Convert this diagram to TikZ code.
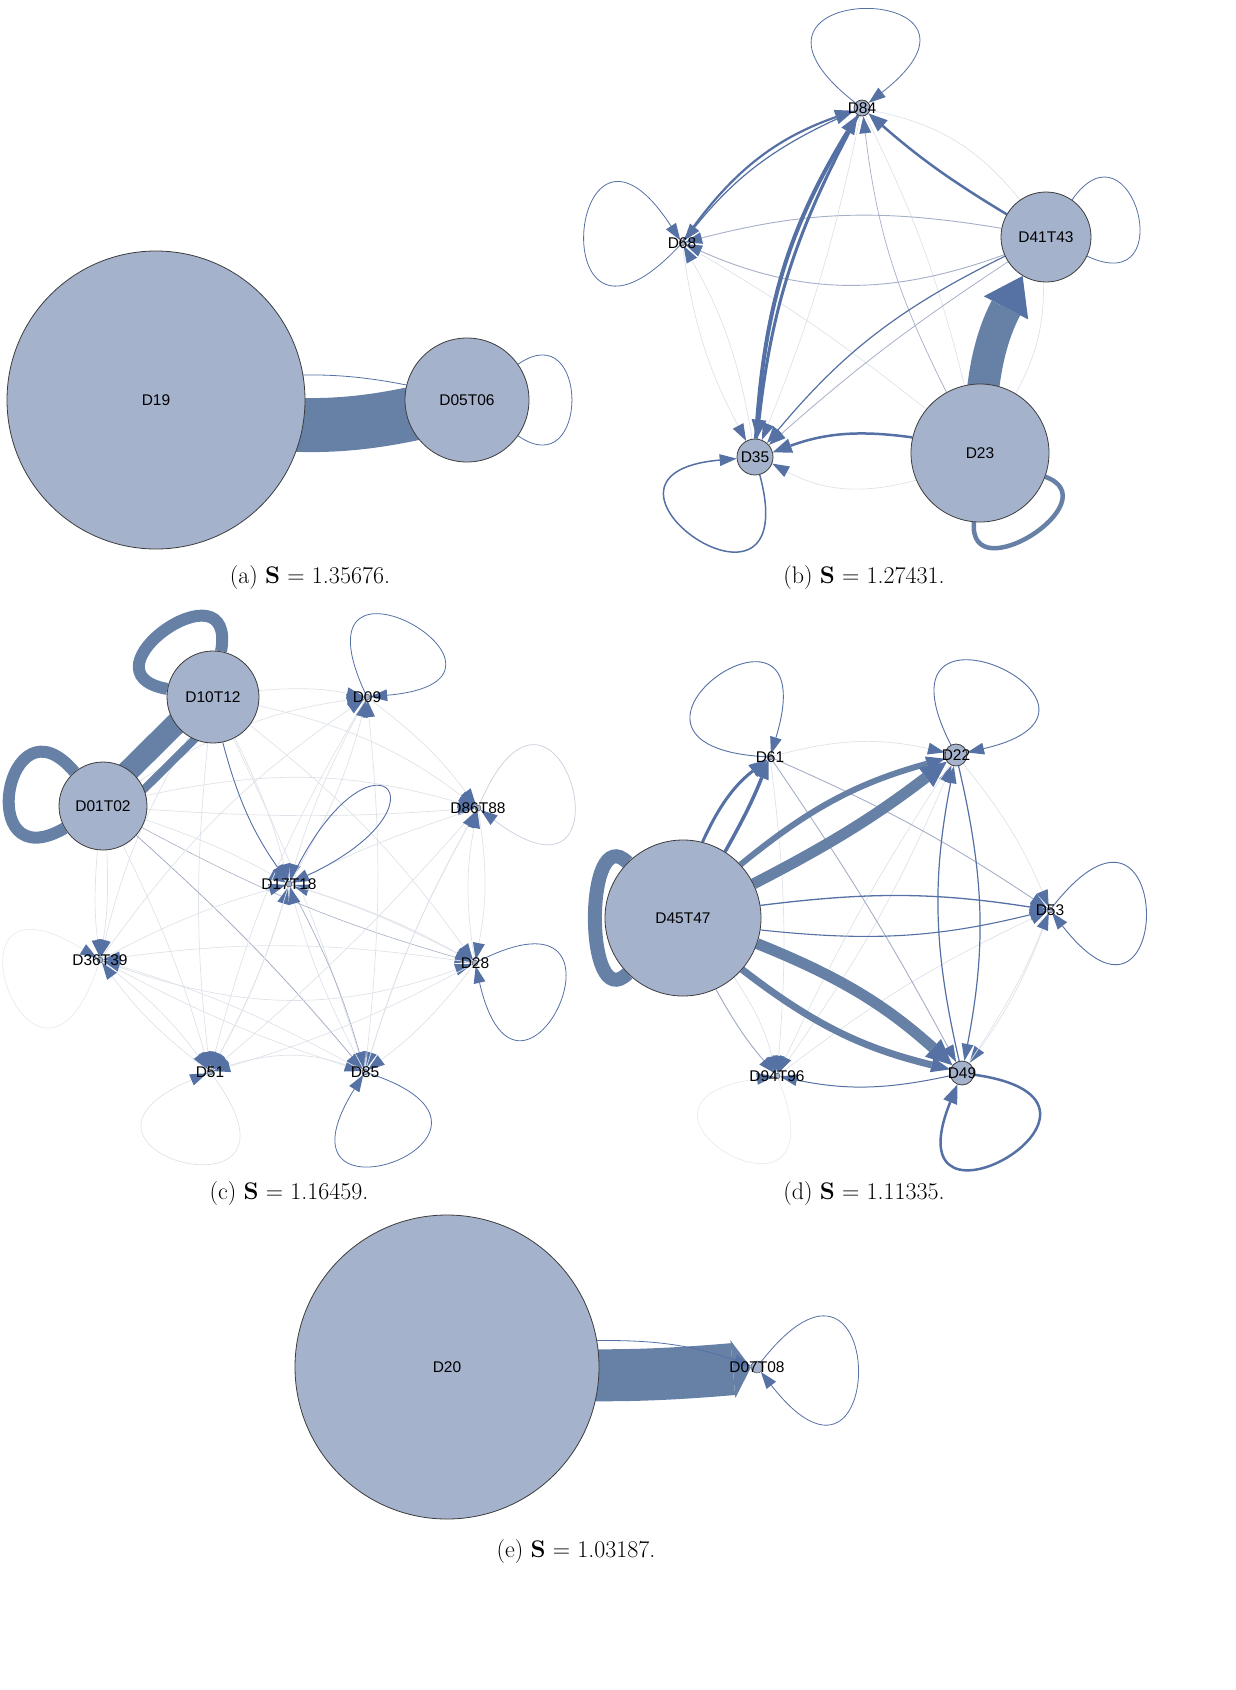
\documentclass[tikz,border=0pt]{standalone}
\usepackage{fontspec}
\newfontfamily\labfamily{Liberation Sans}
\newcommand\labf{\labfamily\fontsize{15.5}{18}\selectfont}
\newcommand\capf{\fontsize{24}{28}\selectfont}
\usetikzlibrary{arrows.meta}
\pgfdeclarelayer{bg}
\pgfsetlayers{bg,main}
\definecolor{nfill}{RGB}{164,178,204}
\definecolor{nbord}{RGB}{60,60,60}
\definecolor{eblue}{RGB}{102,128,166}
\definecolor{ablue}{RGB}{86,114,164}
\definecolor{lblue}{RGB}{84,112,164}
\definecolor{gline}{RGB}{165,174,198}
\definecolor{fline}{RGB}{222,226,233}
\definecolor{vfline}{RGB}{232,234,238}
\newcommand\myloop[5]{\draw[#1] (#2) .. controls +(#3:#5) and +(#4:#5) .. (#2);}
\tikzset{
  bnode/.style={circle,draw=nbord,fill=nfill,line width=0.8pt,inner sep=0pt,minimum size=#1,font=\labf},
  snode/.style={circle,draw=nbord,fill=nfill,line width=0.4pt,inner sep=0pt,minimum size=#1},
  labtxt/.style={font=\labf,inner sep=0pt,text=black},
  captxt/.style={font=\capf,inner sep=0pt},
  fe/.style={draw=fline,line width=0.7pt},
  vfe/.style={draw=vfline,line width=0.7pt},
  ge/.style={draw=gline,line width=#1}, ge/.default=0.8pt,
  be/.style={draw=lblue,line width=#1}, be/.default=0.9pt,
  band/.style={draw=eblue,line width=#1},
  atip/.style={-{Triangle[length=17pt,width=12pt,line width=0pt,color=ablue]}},
  atipm/.style={-{Triangle[length=19pt,width=15pt,line width=0pt,color=ablue]}},
  atipl/.style={-{Triangle[length=26pt,width=24pt,line width=0pt,color=ablue]}},
  atiph/.style={-{Triangle[length=36pt,width=50pt,line width=0pt,color=ablue]}},
  atipe/.style={-{Triangle[length=18pt,width=58pt,line width=0pt,color=eblue]}},
}
\begin{document}
\begin{tikzpicture}[x=1pt,y=1pt]
\useasboundingbox (0,0) rectangle (1236,-1690);

% ---------------- nodes ----------------
% (a)
\node[bnode=298pt] (d19) at (156,-400) {D19};
\node[bnode=124pt] (d05) at (467,-400) {D05T06};
% (b)
\node[bnode=16pt,label={[labtxt]center:D84}] (d84) at (862,-108) {};
\node[snode=6pt,label={[labtxt]center:D68}] (d68) at (682,-243) {};
\node[bnode=90pt] (d41) at (1046,-237) {D41T43};
\node[bnode=36pt] (d35) at (755,-457) {D35};
\node[bnode=138pt] (d23) at (980,-453) {D23};
% (c)
\node[bnode=92pt] (d10) at (213,-697) {D10T12};
\node[bnode=88pt] (d01) at (103,-806) {D01T02};
\node[snode=6pt,label={[labtxt]center:D09}] (d09) at (367,-697) {};
\node[snode=6pt,label={[labtxt]center:D86T88}] (d86) at (478,-808) {};
\node[snode=6pt,label={[labtxt]center:D17T18}] (d17) at (289,-884) {};
\node[snode=6pt,label={[labtxt]center:D36T39}] (d36) at (100,-960) {};
\node[snode=6pt,label={[labtxt]center:D28}] (d28) at (475,-963) {};
\node[snode=6pt,label={[labtxt]center:D51}] (d51) at (210,-1072) {};
\node[snode=6pt,label={[labtxt]center:D85}] (d85) at (365,-1072) {};
% (d)
\node[snode=6pt,label={[labtxt]center:D61}] (d61) at (770,-757) {};
\node[bnode=22pt,label={[labtxt]center:D22}] (d22) at (956,-755) {};
\node[bnode=156pt] (d45) at (683,-918) {D45T47};
\node[snode=6pt,label={[labtxt]center:D53}] (d53) at (1050,-910) {};
\node[snode=6pt,label={[labtxt]center:D94T96}] (d94) at (777,-1076) {};
\node[bnode=24pt,label={[labtxt]center:D49}] (d49) at (962,-1073) {};
% (e)
\node[bnode=304pt] (d20) at (447,-1367) {D20};
\node[snode=12pt,label={[labtxt]center:D07T08}] (d07) at (757,-1367) {};

% captions
\node[captxt] (capa) at (310,-578) {(a) \textbf{S} = 1.35676.};
\node[captxt] (capb) at (864,-578) {(b) \textbf{S} = 1.27431.};
\node[captxt] (capc) at (289,-1193) {(c) \textbf{S} = 1.16459.};
\node[captxt] (capd) at (864,-1193) {(d) \textbf{S} = 1.11335.};
\node[captxt] (cape) at (576,-1551) {(e) \textbf{S} = 1.03187.};

\begin{pgfonlayer}{bg}
% ---------------- (a) ----------------
\draw[band=54pt] (d19.center) to[bend right=16] (d05.center);
\draw[be=0.8pt] (d19.center) to[bend left=16] (d05.center);
\myloop{be=0.8pt}{d05}{35}{-35}{150}

% ---------------- (b) ----------------
\draw[fe,atip] (d84) to[bend left=5] (d35);
\draw[fe] (d84) to[bend left=6] (d23);
\draw[ge=0.7pt,atip] (d23) to[bend left=10] (d84);
\draw[fe] (d84) to[bend left=20] (d41);
\draw[fe,atip] (d68) to[bend right=10] (d35);
\draw[fe,atip] (d35) to[bend right=10] (d68);
\draw[fe] (d68) to[bend left=4] (d23);
\draw[fe,atip] (d23) to[bend left=22] (d35);
\draw[fe] (d23) to[bend right=14] (d41);
\draw[ge=0.9pt,atip] (d41) to[bend right=12] (d68);
\draw[ge=0.9pt,atip] (d41) to[bend left=22] (d68);
\draw[be=1.2pt,atip] (d41) to[bend right=12] (d35);
\draw[ge=0.8pt,atip] (d41) to[bend right=4] (d35);
\draw[be=2.5pt,atipm] (d23) to[bend right=14] (d35);
\draw[be=2.2pt,atipm] (d68) to[bend left=18] (d84);
\draw[be=1.2pt,atip] (d84) to[bend right=14] (d68);
\draw[be=2.5pt,atipm] (d41) to[bend left=5] (d84);
\draw[be=4pt,atipm] (d35) to[bend left=14] (d84);
\draw[be=3pt,atipm] (d84) to[bend right=11] (d35);
\draw[band=32pt,atiph] (d23.center) to[bend left=14] (d41);
\myloop{be=0.8pt,atip}{d84}{142}{38}{210}
\myloop{be=0.8pt,atip}{d68}{227}{123}{210}
\myloop{be=0.8pt}{d41}{55}{-25}{150}
\myloop{be=1.5pt,atip}{d35}{-75}{185}{200}
\myloop{band=4.5pt}{d23}{-20}{-95}{140}

% ---------------- (c) ----------------
\draw[fe,atip] (d10) to[bend left=8] (d09);
\draw[fe,atip] (d01) to[bend left=12] (d09);
\draw[fe,atip] (d10) to[bend left=12] (d86);
\draw[fe,atip] (d01) to[bend left=14] (d86);
\draw[fe,atip] (d01) to[bend right=4] (d86);
\draw[fe,atip] (d01) to[bend left=5] (d17);
\draw[fe,atip] (d10) to[bend left=6] (d17);
\draw[fe,atip] (d01) to[bend right=6] (d36);
\draw[fe,atip] (d01) to[bend left=6] (d36);
\draw[fe,atip] (d10) to[bend right=8] (d36);
\draw[fe,atip] (d01) to[bend left=5] (d51);
\draw[fe,atip] (d10) to[bend right=6] (d51);
\draw[ge=0.8pt,atip] (d01) to[bend left=4] (d85);
\draw[fe,atip] (d10) to[bend left=4] (d85);
\draw[ge=0.6pt,atip] (d01) to[bend right=6] (d28);
\draw[fe,atip] (d10) to[bend left=8] (d28);
\draw[ge=0.7pt,atip] (d17) to[bend left=6] (d85);
\draw[fe,atip] (d36) to[bend right=20] (d28);
\draw[fe,atip] (d51) to[bend left=20] (d85);
\draw[fe,atip] (d36) to[bend right=5] (d85);
\draw[fe,atip] (d28) to[bend left=8] (d85);
\draw[fe,atip] (d86) to[bend right=6] (d85);
\draw[fe,atip] (d86) to[bend left=4] (d51);
\draw[fe,atip] (d28) to[bend left=6] (d51);
\draw[fe,atip] (d09) to[bend right=6] (d17);
\draw[fe,atip] (d86) to[bend right=4] (d17);
\draw[fe,atip] (d28) to[bend right=5] (d17);
\draw[fe,atip] (d85) to[bend left=6] (d17);
\draw[fe,atip] (d51) to[bend right=6] (d17);
\draw[fe,atip] (d36) to[bend left=6] (d17);
\draw[fe,atip] (d09) to[bend left=8] (d86);
\draw[fe,atip] (d86) to[bend left=10] (d28);
\draw[fe,atip] (d28) to[bend left=10] (d86);
\draw[fe,atip] (d09) to[bend right=8] (d51);
\draw[fe,atip] (d36) to[bend left=8] (d51);
\draw[fe,atip] (d51) to[bend left=8] (d36);
\draw[fe,atip] (d85) to[bend right=6] (d09);
\draw[fe,atip] (d17) to[bend left=6] (d28);
\draw[fe,atip] (d17) to[bend left=6] (d51);
\draw[fe,atip] (d85) to[bend left=6] (d86);
\draw[fe,atip] (d36) to[bend left=10] (d09);
\draw[fe,atip] (d28) to[bend right=8] (d36);
\draw[fe,atip] (d85) to[bend right=6] (d36);
\draw[fe,atip] (d17) to[bend right=8] (d09);
\draw[be=0.9pt,atip] (d10) to[bend right=10] (d17);
\draw[band=22pt] ([shift={(-5,5)}]d01.center) -- ([shift={(-5,5)}]d10.center);
\draw[band=8pt] ([shift={(12,-12)}]d10.center) -- ([shift={(12,-12)}]d01.center);
\myloop{band=12pt}{d10}{80}{170}{140}
\myloop{band=12pt}{d01}{130}{210}{150}
\myloop{be=0.9pt,atip}{d17}{65}{25}{190}
\myloop{be=0.8pt,atip}{d09}{115}{5}{195}
\myloop{draw=gline!60,line width=0.7pt,atip}{d86}{67}{-37}{205}
\myloop{vfe,atip}{d36}{252}{148}{205}
\myloop{be=0.8pt,atip}{d28}{27}{-77}{200}
\myloop{fe,atip}{d51}{-53}{-157}{200}
\myloop{be=0.8pt,atip}{d85}{-18}{-122}{200}

% ---------------- (d) ----------------
\draw[fe,atip] (d61) to[bend left=14] (d22);
\draw[fe,atip] (d22) to[bend left=8] (d53);
\draw[fe,atip] (d53) to[bend left=8] (d49);
\draw[fe,atip] (d94) to[bend left=6] (d53);
\draw[fe,atip] (d94) to[bend right=6] (d22);
\draw[fe,atip] (d22) to[bend right=4] (d94);
\draw[fe,atip] (d61) to[bend left=6] (d94);
\draw[fe,atip] (d49) to[bend right=6] (d53);
\draw[fe,atip] (d45) to[bend left=10] (d94);
\draw[ge=0.9pt,atip] (d61) to[bend left=3] (d49);
\draw[ge=0.9pt,atip] (d61) to[bend left=5] (d53);
\draw[ge=1pt,atip] (d45) to[bend right=6] (d94);
\draw[be=1pt,atip] (d49) to[bend left=12] (d94);
\draw[be=1.2pt,atip] (d22) to[bend left=12] (d49);
\draw[be=1.2pt,atip] (d49) to[bend left=12] (d22);
\draw[be=1.3pt,atip] (d45) to[bend left=8] (d53);
\draw[be=1.1pt,atip] (d45) to[bend right=10] (d53);
\draw[be=3pt,atipm] (d45) to[bend left=14] (d61);
\draw[be=3.5pt,atipm] (d45) to[bend right=4] (d61);
\draw[band=6pt,atipm] (d45) to[bend left=12] (d22);
\draw[band=11pt,atipl] (d45) to[bend right=5] (d22);
\draw[band=11pt,atipl] (d45) to[bend left=10] (d49);
\draw[band=7pt,atipm] (d45) to[bend right=12] (d49);
\myloop{band=14pt}{d45}{135}{225}{140}
\myloop{be=0.9pt,atip}{d61}{177}{73}{205}
\myloop{be=0.9pt,atip}{d22}{117}{13}{205}
\myloop{be=0.9pt,atip}{d53}{52}{-52}{205}
\myloop{vfe,atip}{d94}{-68}{-172}{195}
\myloop{be=2.5pt,atipm}{d49}{-8}{-112}{200}

% ---------------- (e) ----------------
\draw[band=52pt,atipe] (d20.center) to[bend right=5] (d07);
\draw[be=0.8pt,atip] (d20) to[bend left=10] (d07);
\myloop{be=0.8pt,atip}{d07}{52}{-52}{215}
\end{pgfonlayer}
\end{tikzpicture}
\end{document}
